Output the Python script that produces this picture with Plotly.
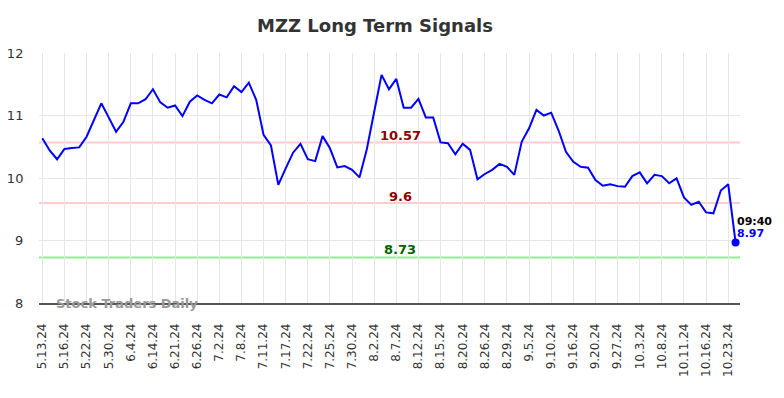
import plotly.graph_objects as go

# Closing values (one per trading session, categorical x axis)
values = [
    10.635, 10.44, 10.30, 10.465, 10.48, 10.49, 10.66, 10.93, 11.195, 10.97,
    10.74, 10.90, 11.195, 11.195, 11.26, 11.42, 11.21, 11.125, 11.16, 10.99,
    11.22, 11.32, 11.25, 11.195, 11.335, 11.29, 11.47, 11.376, 11.525, 11.25,
    10.69, 10.52, 9.89, 10.155, 10.405, 10.545, 10.30, 10.27, 10.67, 10.475,
    10.17, 10.19, 10.13, 10.01, 10.46, 11.06, 11.65, 11.42, 11.585, 11.125,
    11.125, 11.265, 10.97, 10.97, 10.57, 10.555, 10.38, 10.55, 10.45, 9.98,
    10.064, 10.13, 10.225, 10.18, 10.05, 10.58, 10.795, 11.09, 11.00, 11.045,
    10.76, 10.42, 10.26, 10.18, 10.165, 9.968, 9.877, 9.90, 9.87, 9.86,
    10.03, 10.09, 9.915, 10.05, 10.03, 9.915, 9.995, 9.69, 9.57, 9.62,
    9.45, 9.435, 9.80, 9.90, 8.97,
]

# Tick labels shown every third session
tick_labels = [
    "5.13.24", "5.16.24", "5.22.24", "5.30.24", "6.4.24", "6.14.24", "6.21.24",
    "6.26.24", "7.2.24", "7.8.24", "7.11.24", "7.17.24", "7.22.24", "7.25.24",
    "7.30.24", "8.2.24", "8.7.24", "8.12.24", "8.15.24", "8.20.24", "8.26.24",
    "8.29.24", "9.5.24", "9.10.24", "9.16.24", "9.20.24", "9.27.24", "10.3.24",
    "10.8.24", "10.11.24", "10.16.24", "10.23.24",
]
tick_step = 3

# Signal levels
red_levels = [10.57, 9.6]
green_levels = [8.73]

last_time = "09:40"

x = list(range(len(values)))
tickvals = [i * tick_step for i in range(len(tick_labels))]

fig = go.Figure()

for lv in red_levels:
    fig.add_shape(type="line", xref="paper", x0=0, x1=1, yref="y", y0=lv, y1=lv,
                  line=dict(color="#ffcccc", width=2), layer="below")
for lv in green_levels:
    fig.add_shape(type="line", xref="paper", x0=0, x1=1, yref="y", y0=lv, y1=lv,
                  line=dict(color="#90ee90", width=2), layer="below")

fig.add_trace(go.Scatter(x=x, y=values, mode="lines",
                         line=dict(color="#0000ff", width=2), hoverinfo="skip"))
fig.add_trace(go.Scatter(x=[x[-1]], y=[values[-1]], mode="markers",
                         marker=dict(color="#0000ff", size=8), hoverinfo="skip"))

mid_x = 48.5
for lv in red_levels:
    fig.add_annotation(x=mid_x, y=lv, text=f"<b>{lv:g}</b>", showarrow=False,
                       yshift=7, font=dict(color="#8b0000", size=13, family="DejaVu Sans"))
for lv in green_levels:
    fig.add_annotation(x=mid_x, y=lv, text=f"<b>{lv:g}</b>", showarrow=False,
                       yshift=8, font=dict(color="#006400", size=13, family="DejaVu Sans"))

fig.add_annotation(x=x[-1], y=values[-1], text=f"<b>{last_time}</b>", showarrow=False,
                   xanchor="left", xshift=-1, yshift=21,
                   font=dict(color="#000000", size=11, family="DejaVu Sans"))
fig.add_annotation(x=x[-1], y=values[-1], text=f"<b>{values[-1]:.2f}</b>", showarrow=False,
                   xanchor="left", xshift=-1, yshift=9,
                   font=dict(color="#0000ff", size=11, family="DejaVu Sans"))

fig.add_annotation(xref="paper", yref="paper", x=0.021, y=0.0, xanchor="left",
                   yanchor="middle", text="<b>Stock Traders Daily</b>", showarrow=False,
                   font=dict(color="#999999", size=13, family="DejaVu Sans"))

W, H = 784, 398
fig.update_layout(
    width=W, height=H,
    margin=dict(l=31, r=W - 732, t=45, b=H - 295),
    paper_bgcolor="white", plot_bgcolor="white",
    showlegend=False,
    font=dict(family="DejaVu Sans", color="#333333"),
    title=dict(text="<b>MZZ Long Term Signals</b>", x=(375 - 8) / W, xanchor="center",
               y=1 - 18 / H, yanchor="middle", yref="container",
               font=dict(size=18, color="#333333", family="DejaVu Sans")),
)
fig.update_xaxes(
    range=[-0.45, 94.6], tickmode="array", tickvals=tickvals, ticktext=tick_labels,
    tickangle=-90, tickfont=dict(size=12, color="#333333"),
    showgrid=True, gridcolor="#e6e6e6", gridwidth=1,
    showline=True, linecolor="#555555", linewidth=1.5,
    ticks="outside", ticklen=14, tickcolor="rgba(0,0,0,0)", zeroline=False,
    automargin=False,
)
fig.update_yaxes(
    range=[8, 12], tickvals=[8, 9, 10, 11, 12],
    tickfont=dict(size=13, color="#333333"),
    showgrid=True, gridcolor="#e6e6e6", gridwidth=1,
    ticks="outside", ticklen=12, tickcolor="rgba(0,0,0,0)", zeroline=False,
    automargin=False,
)

fig.write_html("out.html")
